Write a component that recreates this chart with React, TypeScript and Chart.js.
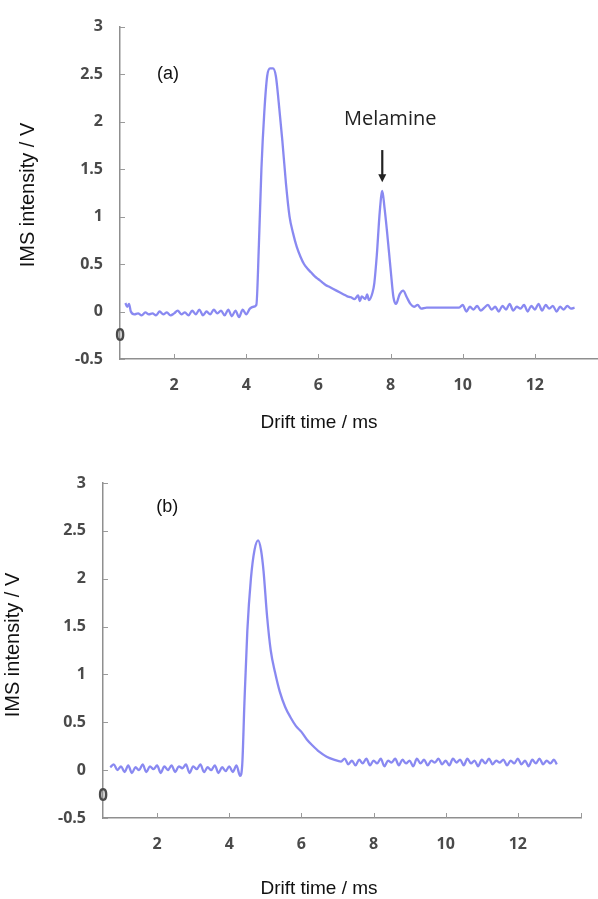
import React, { useEffect, useRef } from "react";
import { Chart, registerables } from "chart.js";

Chart.register(...registerables);

// ---- Data ----
// Panel (a): sample with melamine
const driftTimeA = [
  0.65, 0.7, 0.75, 0.8, 0.9, 1.0, 1.1, 1.2, 1.3, 1.4, 1.5, 1.6, 1.7, 1.8, 1.9, 2.0,
  2.1, 2.2, 2.3, 2.4, 2.5, 2.6, 2.7, 2.8, 2.9, 3.0, 3.1, 3.2, 3.3, 3.4, 3.5, 3.6,
  3.7, 3.8, 3.9, 4.0, 4.1, 4.2, 4.28, 4.35, 4.42, 4.5, 4.58, 4.66, 4.74, 4.82, 4.9,
  5.0, 5.1, 5.2, 5.3, 5.4, 5.5, 5.6, 5.7, 5.8, 5.9, 6.0, 6.1, 6.2, 6.3, 6.4, 6.5,
  6.6, 6.7, 6.8, 6.9, 7.0, 7.1, 7.15, 7.2, 7.3, 7.35, 7.4, 7.5, 7.55, 7.62, 7.7,
  7.77, 7.83, 7.9, 8.0, 8.08, 8.15, 8.25, 8.35, 8.45, 8.55, 8.65, 8.75, 8.85, 9.0,
  9.9, 10.0, 10.1, 10.2, 10.3, 10.4, 10.5, 10.6, 10.7, 10.8, 10.9, 11.0, 11.1, 11.2,
  11.3, 11.4, 11.5, 11.6, 11.7, 11.8, 11.9, 12.0, 12.1, 12.2, 12.3, 12.4, 12.5, 12.6,
  12.7, 12.8, 12.9, 13.0, 13.1,
];
const intensityA = [
  0.09, 0.05, 0.08, 0.0, -0.03, -0.02, -0.04, -0.01, -0.03, -0.02, -0.04, 0.0, -0.03, -0.01, -0.04, -0.02,
  0.01, -0.03, -0.01, -0.04, 0.01, -0.03, 0.02, -0.04, 0.0, -0.03, 0.02, -0.02, 0.01, -0.04, 0.02, -0.05,
  0.01, -0.06, 0.02, -0.03, 0.03, 0.05, 0.07, 0.7, 1.5, 2.1, 2.48, 2.56, 2.56, 2.48, 2.2,
  1.8, 1.35, 1.0, 0.82, 0.68, 0.58, 0.5, 0.45, 0.41, 0.37, 0.34, 0.31, 0.28, 0.26, 0.24, 0.22,
  0.2, 0.18, 0.16, 0.15, 0.13, 0.17, 0.11, 0.16, 0.13, 0.18, 0.12, 0.2, 0.3, 0.6, 1.05,
  1.27, 1.1, 0.85, 0.45, 0.15, 0.08, 0.18, 0.22, 0.15, 0.08, 0.05, 0.07, 0.03, 0.04,
  0.04, 0.07, 0.0, 0.05, 0.02, 0.06, 0.01, 0.04, 0.07, 0.02, 0.05, 0.0, 0.06, 0.02,
  0.08, 0.01, 0.05, 0.03, 0.07, 0.0, 0.06, 0.02, 0.08, 0.01, 0.07, 0.03, 0.06, 0.0,
  0.05, 0.02, 0.06, 0.03, 0.04,
];

// Panel (b): blank sample
const driftTimeB = [
  0.7, 0.8, 0.9, 1.0, 1.1, 1.2, 1.3, 1.4, 1.5, 1.6, 1.7, 1.8, 1.9, 2.0, 2.1, 2.2,
  2.3, 2.4, 2.5, 2.6, 2.7, 2.8, 2.9, 3.0, 3.1, 3.2, 3.3, 3.4, 3.5, 3.6, 3.7, 3.8,
  3.9, 4.0, 4.1, 4.2, 4.3, 4.36, 4.42, 4.5, 4.6, 4.7, 4.8, 4.88, 4.95, 5.05, 5.15,
  5.27, 5.4, 5.55, 5.7, 5.85, 6.0, 6.15, 6.3, 6.5, 6.7, 6.9, 7.1, 7.2, 7.3, 7.4,
  7.5, 7.6, 7.7, 7.8, 7.9, 8.0, 8.1, 8.2, 8.3, 8.4, 8.5, 8.6, 8.7, 8.8, 8.9, 9.0,
  9.1, 9.2, 9.3, 9.4, 9.5, 9.6, 9.7, 9.8, 9.9, 10.0, 10.1, 10.2, 10.3, 10.4, 10.5,
  10.6, 10.7, 10.8, 10.9, 11.0, 11.1, 11.2, 11.3, 11.4, 11.5, 11.6, 11.7, 11.8, 11.9,
  12.0, 12.1, 12.2, 12.3, 12.4, 12.5, 12.6, 12.7, 12.8, 12.9, 13.0, 13.08,
];
const intensityB = [
  0.03, 0.06, 0.0, 0.04, -0.02, 0.05, -0.03, 0.03, 0.0, 0.06, -0.02, 0.04, 0.01, 0.05, -0.03, 0.04,
  0.0, 0.05, -0.02, 0.04, 0.02, 0.06, -0.03, 0.04, 0.01, 0.06, -0.02, 0.03, 0.0, 0.05, -0.03, 0.03,
  -0.01, 0.04, -0.02, 0.05, -0.06, 0.06, 0.7, 1.45, 2.0, 2.3, 2.4, 2.3, 2.08, 1.6, 1.25,
  1.02, 0.82, 0.66, 0.55, 0.46, 0.4, 0.32, 0.26, 0.19, 0.14, 0.11, 0.09, 0.12, 0.06, 0.1,
  0.05, 0.11, 0.07, 0.12, 0.05, 0.1, 0.07, 0.12, 0.04, 0.1, 0.08, 0.12, 0.05, 0.11, 0.07, 0.1,
  0.04, 0.12, 0.07, 0.11, 0.05, 0.1, 0.08, 0.12, 0.06, 0.1, 0.05, 0.12, 0.08, 0.11, 0.05,
  0.12, 0.07, 0.1, 0.04, 0.11, 0.07, 0.12, 0.06, 0.1, 0.08, 0.11, 0.05, 0.1, 0.07,
  0.12, 0.06, 0.1, 0.04, 0.11, 0.07, 0.12, 0.06, 0.1, 0.07, 0.11, 0.06,
];

// Axis ticks / labels
const xTickValues = [2, 4, 6, 8, 10, 12];
const yTickValues = [-0.5, 0, 0.5, 1, 1.5, 2, 2.5, 3];
const xRange = [0.5, 13.75];
const yRange = [-0.5, 3];
const xTitle = "Drift time / ms";
const yTitle = "IMS intensity / V";
const panelLabels = ["(a)", "(b)"];
const peakLabel = "Melamine";
const originLabel = "0";

const LINE_COLOR = "rgba(98, 98, 236, 0.75)";
const TICK_COLOR = "#4a4a4a";
const AXIS_COLOR = "#8f8f8f";
const TICK_FONT = { family: '"Open Sans", "DejaVu Sans", sans-serif', size: 16, weight: "bold" as const };

type Panel = {
  xs: number[];
  ys: number[];
  width: number;
  height: number;
  area: { left: number; top: number; right: number; bottom: number };
  label: string;
  labelAt: [number, number];
  xTitleAt: [number, number];
  yTitleAt: [number, number];
  originY: number;
  melamine?: { textAt: [number, number]; arrowX: number; arrowFrom: number; arrowTo: number };
};

function makeDecorPlugin(p: Panel) {
  return {
    id: "decor",
    afterDraw(chart: any) {
      const { ctx, chartArea } = chart;
      const xs = chart.scales.x;
      const ys = chart.scales.y;
      ctx.save();
      // inward tick marks
      ctx.strokeStyle = "#9a9a9a";
      ctx.lineWidth = 1;
      ys.ticks.forEach((t: any) => {
        const py = Math.round(ys.getPixelForValue(t.value)) + 0.5;
        ctx.beginPath();
        ctx.moveTo(chartArea.left, py);
        ctx.lineTo(chartArea.left + 5, py);
        ctx.stroke();
      });
      [...xTickValues, xRange[1]].forEach((v) => {
        const px = Math.round(xs.getPixelForValue(v)) + 0.5;
        ctx.beginPath();
        ctx.moveTo(px, chartArea.bottom);
        ctx.lineTo(px, chartArea.bottom - 5);
        ctx.stroke();
      });

      // origin mark
      ctx.fillStyle = TICK_COLOR;
      ctx.font = 'bold 17px "Open Sans", sans-serif';
      ctx.textAlign = "center";
      ctx.textBaseline = "middle";
      ctx.fillText(originLabel, chartArea.left, ys.getPixelForValue(p.originY));

      // panel label
      ctx.fillStyle = "#111";
      ctx.font = '18px "Liberation Sans", Arial, sans-serif';
      ctx.fillText(p.label, xs.getPixelForValue(p.labelAt[0]), ys.getPixelForValue(p.labelAt[1]));

      // axis titles
      ctx.font = '19px "Liberation Sans", Arial, sans-serif';
      ctx.fillText(xTitle, p.xTitleAt[0], p.xTitleAt[1]);
      ctx.save();
      ctx.translate(p.yTitleAt[0], p.yTitleAt[1]);
      ctx.rotate(-Math.PI / 2);
      ctx.font = '20px "Liberation Sans", Arial, sans-serif';
      ctx.fillText(yTitle, 0, 0);
      ctx.restore();

      // melamine annotation
      if (p.melamine) {
        const m = p.melamine;
        ctx.fillStyle = "#222";
        ctx.font = '20px "Open Sans", sans-serif';
        ctx.fillText(peakLabel, xs.getPixelForValue(m.textAt[0]), ys.getPixelForValue(m.textAt[1]));
        const ax = xs.getPixelForValue(m.arrowX);
        const y0 = ys.getPixelForValue(m.arrowFrom);
        const y1 = ys.getPixelForValue(m.arrowTo);
        ctx.strokeStyle = "#222";
        ctx.lineWidth = 2.2;
        ctx.beginPath();
        ctx.moveTo(ax, y0);
        ctx.lineTo(ax, y1 - 6);
        ctx.stroke();
        ctx.beginPath();
        ctx.moveTo(ax - 4, y1 - 8);
        ctx.lineTo(ax + 4, y1 - 8);
        ctx.lineTo(ax, y1);
        ctx.closePath();
        ctx.fill();
      }
      ctx.restore();
    },
  };
}

function PanelChart({ p, top }: { p: Panel; top: number }) {
  const ref = useRef<HTMLCanvasElement | null>(null);
  useEffect(() => {
    if (!ref.current) return;
    const data = p.xs.map((x, i) => ({ x, y: p.ys[i] }));
    const chart = new Chart(ref.current, {
      type: "line",
      data: {
        datasets: [
          {
            data,
            borderColor: LINE_COLOR,
            borderWidth: 2.3,
            pointRadius: 0,
            tension: 0.3,
            cubicInterpolationMode: "monotone",
            fill: false,
          },
        ],
      },
      options: {
        animation: false,
        responsive: false,
        devicePixelRatio: 1,
        layout: { padding: { left: 0, top: p.area.top, right: p.width - p.area.right, bottom: 0 } },
        plugins: { legend: { display: false }, tooltip: { enabled: false }, title: { display: false } },
        scales: {
          x: {
            type: "linear",
            min: xRange[0],
            max: xRange[1],
            grid: { display: false, drawTicks: false },
            border: { display: true, color: AXIS_COLOR, width: 1.5 },
            afterBuildTicks: (s: any) => {
              s.ticks = xTickValues.map((v) => ({ value: v }));
            },
            afterFit: (s: any) => {
              s.height = p.height - p.area.bottom;
            },
            ticks: { font: TICK_FONT, color: TICK_COLOR, padding: 17, maxRotation: 0, autoSkip: false, callback: (v: any) => String(v) },
          },
          y: {
            type: "linear",
            min: yRange[0],
            max: yRange[1],
            grid: { display: false, drawTicks: false },
            border: { display: true, color: AXIS_COLOR, width: 1.5 },
            afterBuildTicks: (s: any) => {
              s.ticks = yTickValues.map((v) => ({ value: v }));
            },
            afterFit: (s: any) => {
              s.width = p.area.left;
            },
            ticks: { font: TICK_FONT, color: TICK_COLOR, padding: 17, autoSkip: false, callback: (v: any) => String(v) },
          },
        },
      },
      plugins: [makeDecorPlugin(p)],
    } as any);
    return () => chart.destroy();
  }, [p]);
  return (
    <canvas
      ref={ref}
      width={p.width}
      height={p.height}
      style={{ position: "absolute", left: 0, top, width: p.width, height: p.height, display: "block" }}
    />
  );
}

const panelA: Panel = {
  xs: driftTimeA,
  ys: intensityA,
  width: 598,
  height: 450,
  area: { left: 120, top: 21, right: 598, bottom: 359 },
  label: panelLabels[0],
  labelAt: [1.83, 2.5],
  xTitleAt: [319, 423],
  yTitleAt: [28, 195],
  originY: -0.26,
  melamine: { textAt: [7.99, 2.02], arrowX: 7.77, arrowFrom: 1.7, arrowTo: 1.36 },
};

const panelB: Panel = {
  xs: driftTimeB,
  ys: intensityB,
  width: 598,
  height: 449,
  area: { left: 103, top: 33, right: 581, bottom: 368 },
  label: panelLabels[1],
  labelAt: [2.28, 2.75],
  xTitleAt: [319, 439],
  yTitleAt: [13, 195],
  originY: -0.27,
};

export default function App() {
  return (
    <div style={{ position: "absolute", left: 0, top: 0, width: 598, height: 899, background: "#fff" }}>
      <PanelChart p={panelA} top={0} />
      <PanelChart p={panelB} top={450} />
    </div>
  );
}
